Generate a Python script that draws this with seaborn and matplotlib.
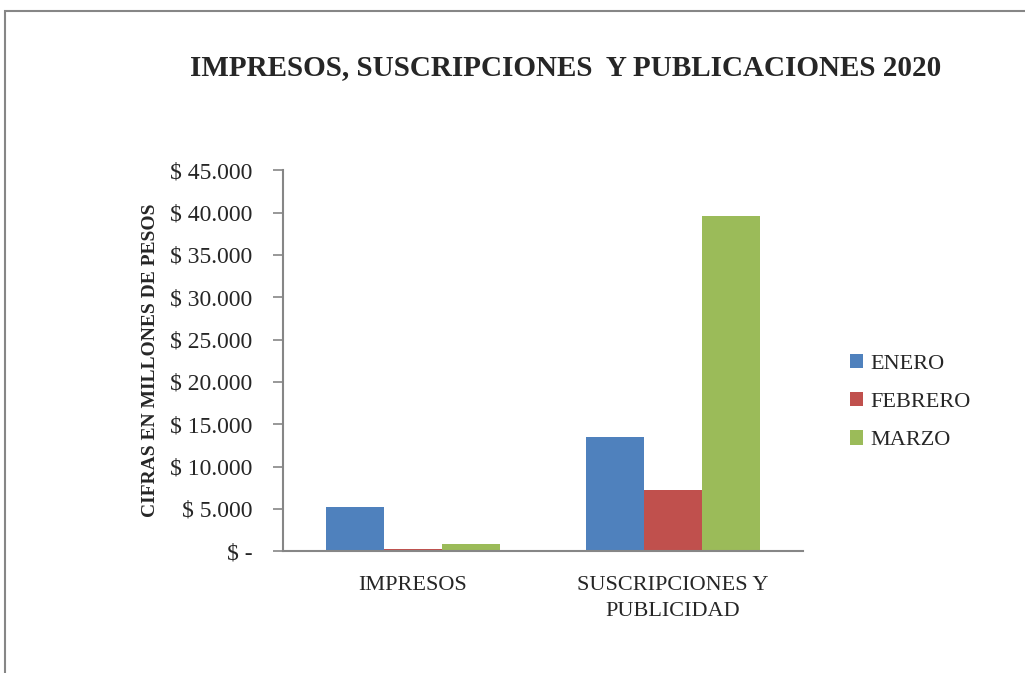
import matplotlib
matplotlib.use("Agg")
import matplotlib.pyplot as plt
import seaborn as sns
import pandas as pd
from matplotlib.patches import Rectangle
from matplotlib.ticker import FuncFormatter

categories = ["IMPRESOS", "SUSCRIPCIONES Y\nPUBLICIDAD"]
months = ["ENERO", "FEBRERO", "MARZO"]
enero = [5200, 13500]
febrero = [250, 7200]
marzo = [850, 39600]
colors = ["#4F81BD", "#C0504D", "#9BBB59"]
title = "IMPRESOS, SUSCRIPCIONES  Y PUBLICACIONES 2020"
ylabel = "CIFRAS EN MILLONES DE PESOS"

rows = []
for m, vals in zip(months, [enero, febrero, marzo]):
    for c, v in zip(categories, vals):
        rows.append({"cat": c, "mes": m, "val": v})
df = pd.DataFrame(rows)

sns.set_theme(style="white")
plt.rcParams["font.family"] = ["Liberation Serif", "DejaVu Serif"]

fig = plt.figure(figsize=(10.25, 6.73), dpi=100)
ax = fig.add_axes([0.276, 0.181, 0.507, 0.566])

sns.barplot(data=df, x="cat", y="val", hue="mes", hue_order=months,
            palette=colors, width=0.67, saturation=1, linewidth=0, ax=ax, legend=True)

ax.set_ylim(0, 45000)
ax.set_yticks(range(0, 45001, 5000))
ax.yaxis.set_major_formatter(FuncFormatter(
    lambda v, p: "$ -" if v == 0 else "$ " + f"{int(v):,}".replace(",", ".")))
ax.tick_params(axis="y", labelsize=17, length=7, width=1.2, color="#868686",
               direction="out", left=True, pad=15)
ax.tick_params(axis="x", labelsize=16, length=0, pad=18)
for lab in ax.get_xticklabels():
    lab.set_linespacing(1.5)
for s in ["top", "right"]:
    ax.spines[s].set_visible(False)
for s in ["left", "bottom"]:
    ax.spines[s].set_color("#868686")
    ax.spines[s].set_linewidth(1.5)
ax.set_xlabel("")
ax.set_ylabel(ylabel, fontsize=14, fontweight="bold", labelpad=8)

leg = ax.legend(loc="center left", bbox_to_anchor=(1.053, 0.391), frameon=False,
                fontsize=16, handlelength=0.6, handleheight=0.6,
                labelspacing=0.82, handletextpad=0.3)

fig.suptitle(title, x=0.552, y=0.92, fontsize=21, fontweight="bold")

fig.patches.append(Rectangle((0.005, -0.1), 1.1, 1.084, transform=fig.transFigure,
                             fill=False, edgecolor="#868686", linewidth=1.5))

fig.savefig("out.png", dpi=100)
